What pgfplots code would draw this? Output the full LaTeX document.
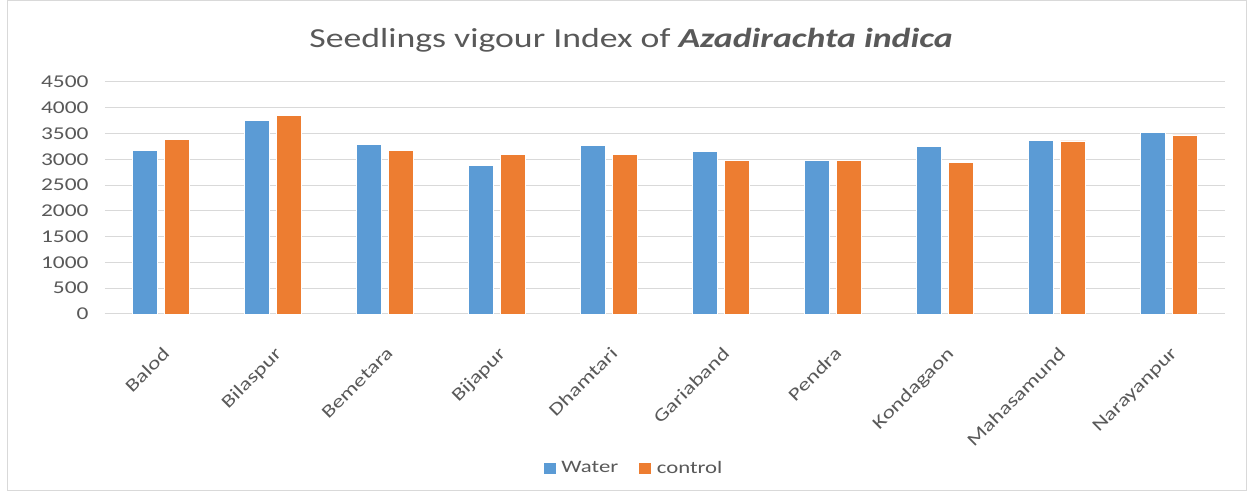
\documentclass[border=0pt]{standalone}
\usepackage{fontspec}
\setmainfont{Carlito}[FakeStretch=1.3]
\usepackage{pgfplots}
\pgfplotsset{compat=1.18}
\definecolor{waterblue}{HTML}{5B9BD5}
\definecolor{ctrlorange}{HTML}{ED7D31}
\definecolor{txtgray}{HTML}{595959}
\definecolor{gridgray}{HTML}{D9D9D9}
\begin{document}
\begin{tikzpicture}[x=1pt,y=1pt]
% page frame
\fill[white] (0,0) rectangle (1251,495);
\draw[gridgray, line width=1pt] (7,4) rectangle (1246,494);
\node[text=txtgray, font=\fontsize{27.5}{32}\selectfont] at (631,455)
  {Seedlings vigour Index of \textbf{\textit{Azadirachta indica}}};
\begin{axis}[
  at={(105pt,181pt)}, anchor=south west,
  scale only axis,
  width=1120pt, height=232pt,
  ybar=7pt, bar width=25pt,
  xmin=-0.5, xmax=9.5,
  ymin=0, ymax=4500,
  ytick={0,500,...,4500},
  xtick=data,
  xticklabels={Balod,Bilaspur,Bemetara,Bijapur,Dhamtari,Gariaband,Pendra,Kondagaon,Mahasamund,Narayanpur},
  xticklabel style={rotate=45, anchor=north east, inner sep=1pt, xshift=-21pt, yshift=-22pt},
  major tick length=0pt,
  axis x line*=bottom, axis y line*=left,
  x axis line style={gridgray, line width=1pt, -},
  y axis line style={draw=none},
  ymajorgrids, grid style={gridgray, line width=1pt},
  tick label style={text=txtgray, font=\fontsize{18}{20}\selectfont},
  /pgf/number format/assume math mode=true,
  /pgf/number format/1000 sep={},
  yticklabel style={xshift=-13pt},
  legend style={at={(0.472,-0.664)}, anchor=center, draw=none, legend columns=2,
    font=\fontsize{17.5}{20}\selectfont, text=txtgray,
    /tikz/every odd column/.append style={column sep=3pt},
    /tikz/every even column/.append style={column sep=18pt}},
  legend image code/.code={\fill[#1] (0pt,-6pt) rectangle (13pt,6pt);},
]
\addplot[fill=waterblue, draw=white, line width=0.6pt] coordinates {
  (0,3175) (1,3750) (2,3291) (3,2877) (4,3272) (5,3155) (6,2981) (7,3252) (8,3369) (9,3530)};
\addplot[fill=ctrlorange, draw=white, line width=0.6pt] coordinates {
  (0,3388) (1,3847) (2,3175) (3,3091) (4,3091) (5,2981) (6,2981) (7,2935) (8,3356) (9,3472)};
\legend{Water,control}
\end{axis}
\end{tikzpicture}
\end{document}
